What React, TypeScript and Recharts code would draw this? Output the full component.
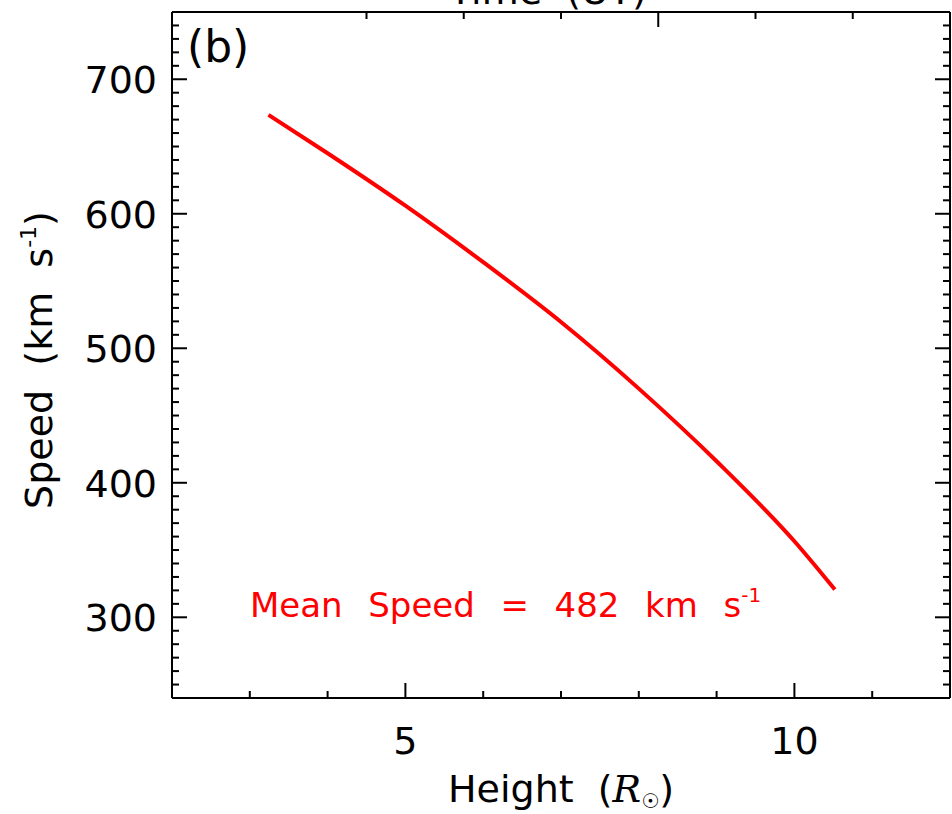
import { LineChart, Line, XAxis, YAxis } from "recharts";

// height (R_sun) vs speed (km/s)
const heights = [3.24, 4, 5, 6, 7, 8, 9, 10, 10.52];
const speeds = [673.5, 645, 606, 564, 519.5, 470, 416, 356.5, 320.6];

const xTicks = [2, 3, 4, 5, 6, 7, 8, 9, 10, 11, 12];
const xMajor = [5, 10];
const yMajor = [300, 400, 500, 600, 700];
const yTicks: number[] = [];
for (let v = 250; v <= 740; v += 10) yTicks.push(v);

const meanSpeed = 482;

const data = heights.map((h, i) => ({ height: h, speed: speeds[i] }));

const W = 952;
const H = 814;
const FONT = "DejaVu Sans, sans-serif";
const AXIS = { stroke: "#000", strokeWidth: 2 };

function XTick(p: any) {
  const { x, y, payload, side } = p;
  const major = xMajor.includes(payload.value);
  const len = major ? 15 : 7;
  const dir = side === "bottom" ? -1 : 1;
  return (
    <g>
      <line x1={x} y1={y} x2={x} y2={y + dir * len} stroke="#000" strokeWidth={2} />
      {side === "bottom" && major && (
        <text x={x} y={y + 56} textAnchor="middle" fontSize={38} fontFamily={FONT} fill="#000">
          {payload.value}
        </text>
      )}
    </g>
  );
}

function YTick(p: any) {
  const { x, y, payload, side } = p;
  const major = yMajor.includes(payload.value);
  const len = major ? 15 : 7;
  const dir = side === "left" ? 1 : -1;
  return (
    <g>
      <line x1={x} y1={y} x2={x + dir * len} y2={y} stroke="#000" strokeWidth={2} />
      {side === "left" && major && (
        <text x={x - 15} y={y + 14} textAnchor="end" fontSize={38} fontFamily={FONT} fill="#000">
          {payload.value}
        </text>
      )}
    </g>
  );
}

export default function App() {
  return (
    <div style={{ position: "absolute", left: 0, top: 0, width: W, height: H, background: "#fff" }}>
      <LineChart width={W} height={H} data={data} margin={{ top: 11, right: 1, bottom: 0, left: 0 }}>
        <XAxis
          dataKey="height"
          type="number"
          domain={[2, 12]}
          allowDataOverflow
          ticks={xTicks}
          interval={0}
          height={116}
          tickSize={0}
          tickMargin={0}
          axisLine={AXIS}
          tickLine={false}
          tick={(p: any) => <XTick {...p} side="bottom" />}
        />
        <XAxis
          xAxisId="top"
          orientation="top"
          type="number"
          domain={[2, 12]}
          allowDataOverflow
          ticks={xTicks}
          interval={0}
          height={1}
          tickSize={0}
          tickMargin={0}
          axisLine={AXIS}
          tickLine={false}
          tick={(p: any) => <XTick {...p} side="top" />}
        />
        <YAxis
          type="number"
          domain={[240, 750]}
          allowDataOverflow
          ticks={yTicks}
          interval={0}
          width={172}
          tickSize={0}
          tickMargin={0}
          axisLine={AXIS}
          tickLine={false}
          tick={(p: any) => <YTick {...p} side="left" />}
        />
        <YAxis
          yAxisId="right"
          orientation="right"
          type="number"
          domain={[240, 750]}
          allowDataOverflow
          ticks={yTicks}
          interval={0}
          width={1}
          tickSize={0}
          tickMargin={0}
          axisLine={AXIS}
          tickLine={false}
          tick={(p: any) => <YTick {...p} side="right" />}
        />
        <Line
          dataKey="speed"
          type="monotone"
          stroke="#ff0000"
          strokeWidth={4}
          dot={false}
          isAnimationActive={false}
        />
        <text x={548} y={4} textAnchor="middle" fontSize={38} fontFamily={FONT} fill="#000" style={{ whiteSpace: "pre" }}>
          Time  (UT)
        </text>
        <text x={187} y={62} fontSize={44} fontFamily={FONT} fill="#000">
          (b)
        </text>
        <text
          x={250}
          y={617}
          fontSize={34}
          fontFamily={FONT}
          fill="#ff0000"
          style={{ whiteSpace: "pre", wordSpacing: 2 }}
        >
          {`Mean  Speed  =  ${meanSpeed}  km  s`}
          <tspan fontSize={20} dy={-15}>-1</tspan>
        </text>
        <text x={561} y={802} textAnchor="middle" fontSize={38} fontFamily={FONT} fill="#000" style={{ whiteSpace: "pre" }}>
          {"Height  ("}
          <tspan fontStyle="italic" fontFamily="DejaVu Serif, serif">R</tspan>
          <tspan fontSize={20} dy={6}>☉</tspan>
          <tspan dy={-6}>)</tspan>
        </text>
        <text
          x={52}
          y={360}
          transform="rotate(-90 52 360)"
          textAnchor="middle"
          fontSize={38}
          fontFamily={FONT}
          fill="#000"
          style={{ whiteSpace: "pre" }}
        >
          {"Speed  (km  s"}
          <tspan fontSize={22} dy={-16}>-1</tspan>
          <tspan dy={16}>)</tspan>
        </text>
      </LineChart>
    </div>
  );
}
